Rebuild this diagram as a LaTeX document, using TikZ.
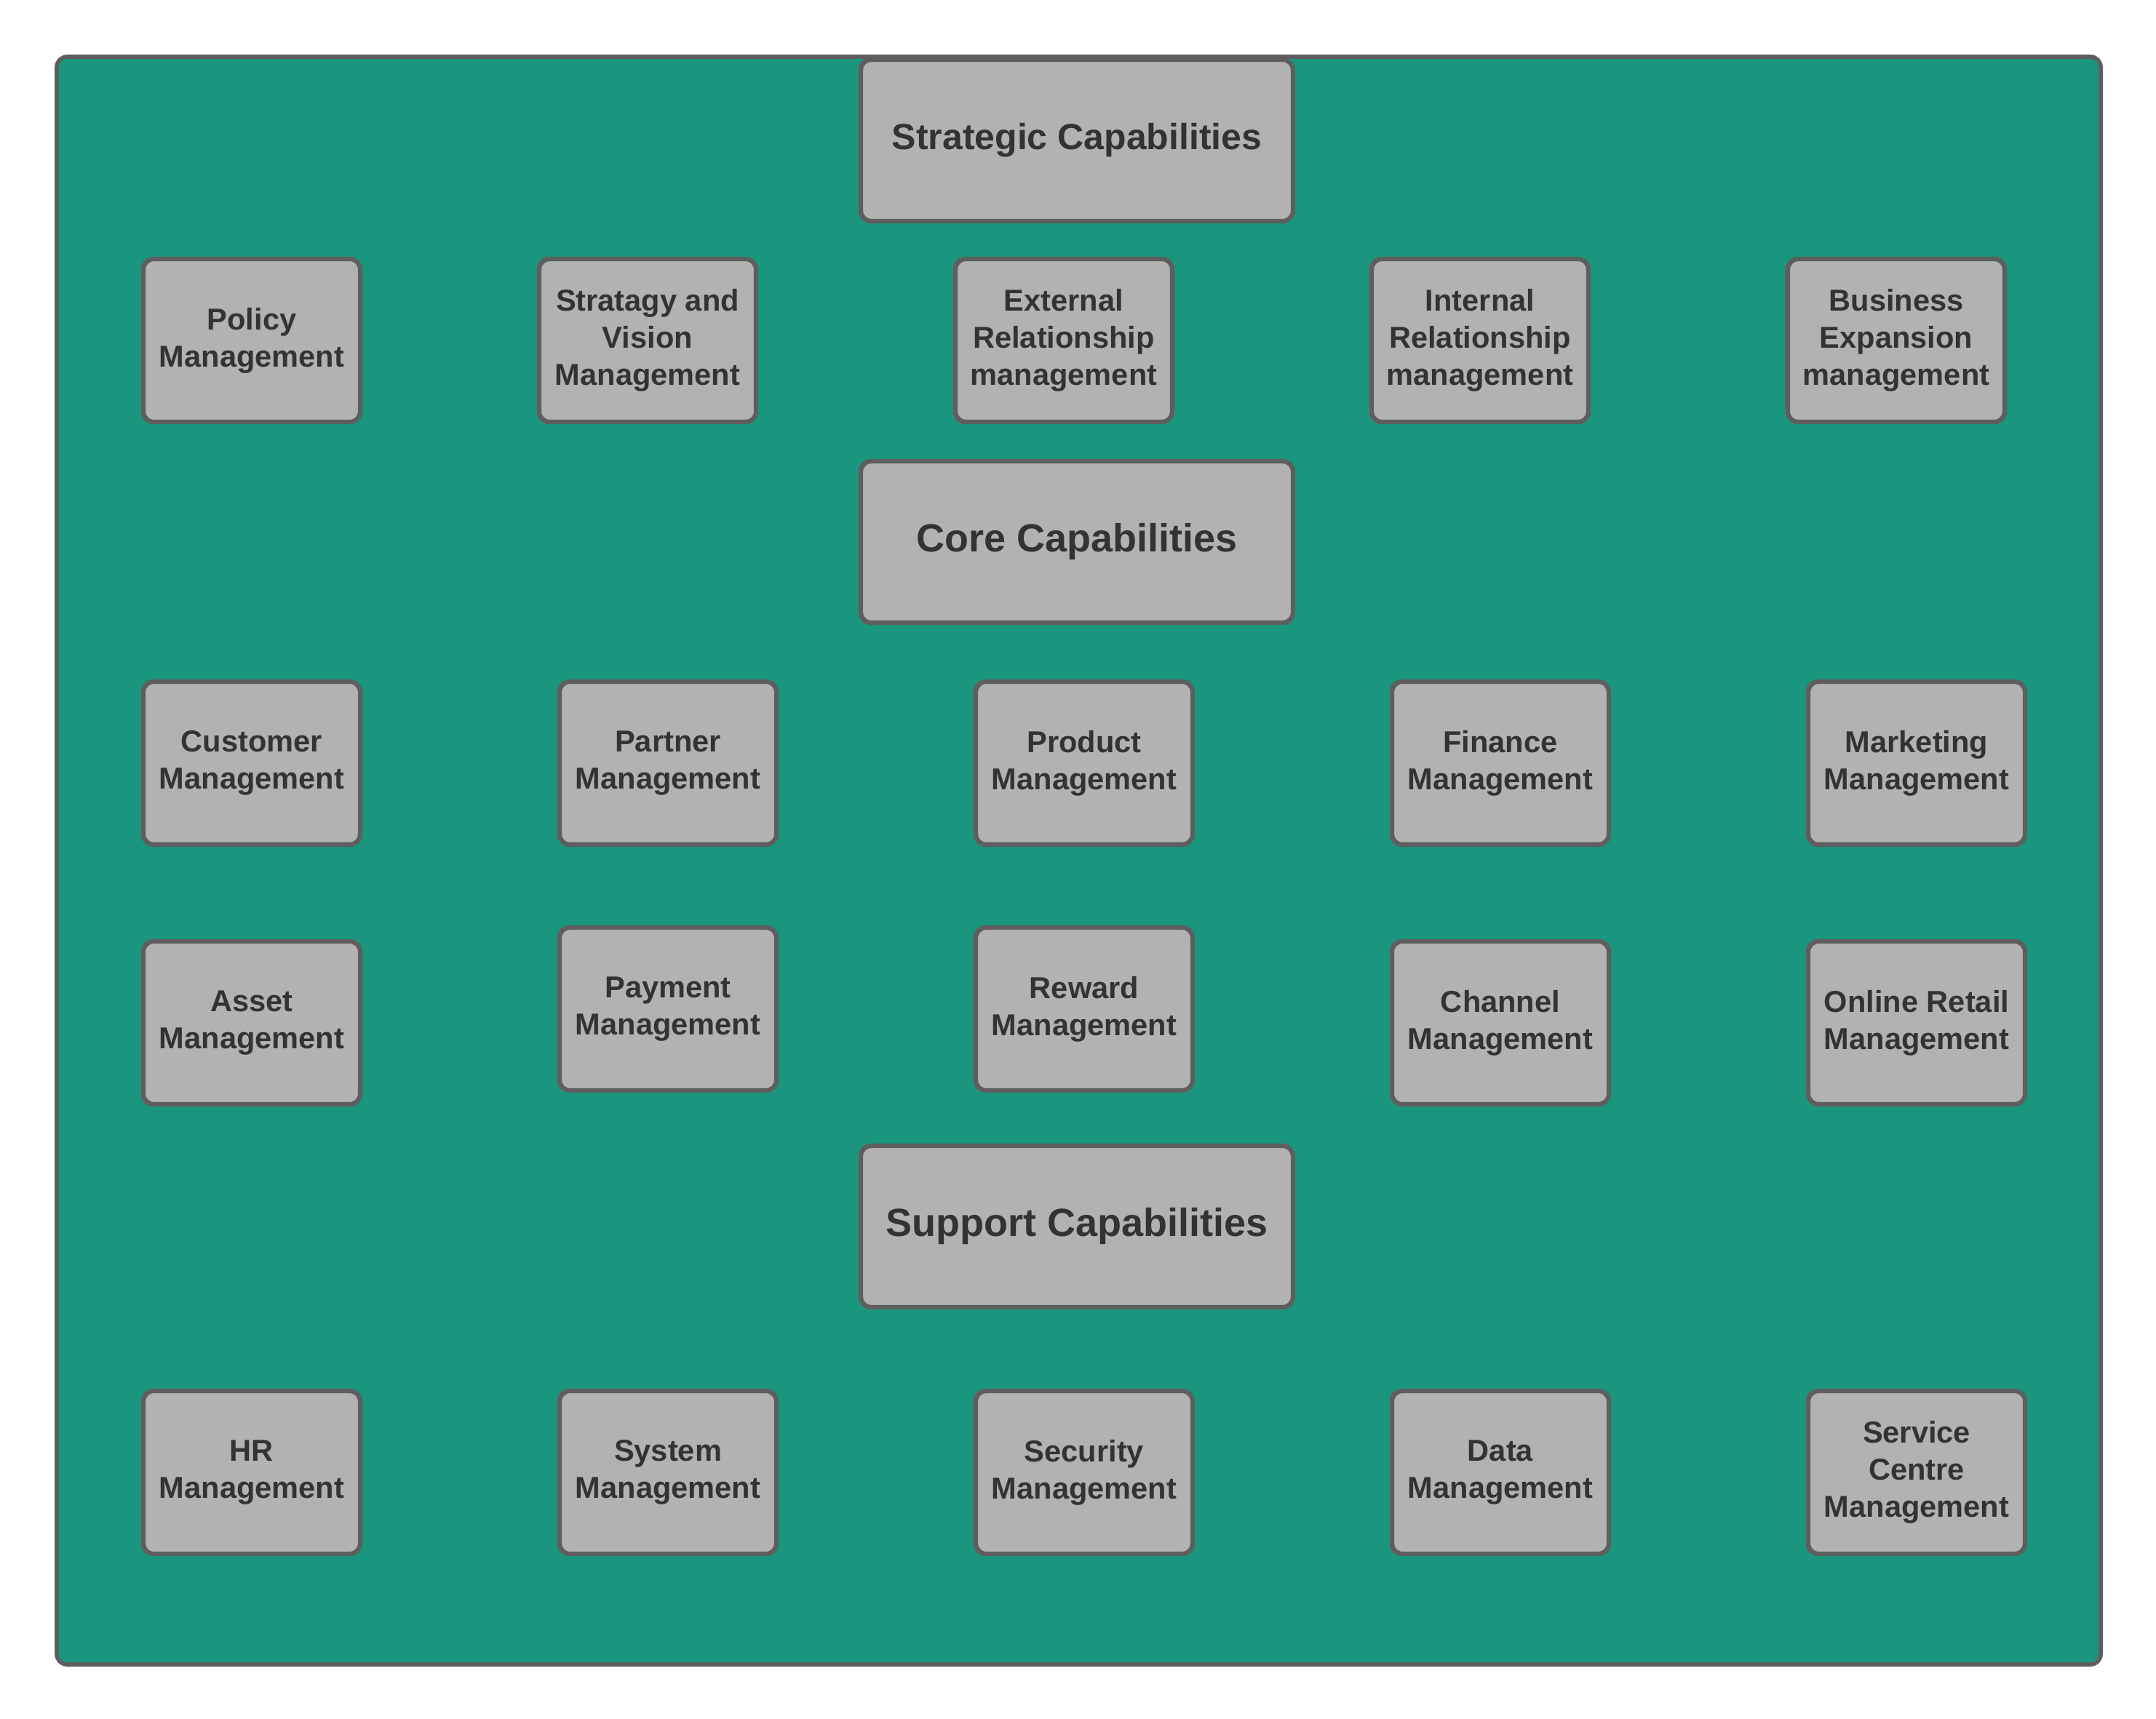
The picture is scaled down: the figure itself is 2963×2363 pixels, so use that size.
\documentclass[tikz,border=0pt]{standalone}
\usepackage{fontspec}
\setmainfont{Liberation Sans}
\usepackage{tikz}

\definecolor{teal}{HTML}{1A967E}
\definecolor{boxgray}{HTML}{B2B2B2}
\definecolor{edgegray}{HTML}{5E5E5E}
\definecolor{inkgray}{HTML}{333333}

\begin{document}
\begin{tikzpicture}[x=0.25pt, y=-0.25pt,
  capbox/.style={draw=edgegray, fill=boxgray, line width=1.6pt, rounded corners=3.5pt,
    minimum width=74.5pt, minimum height=56pt, align=center, text=inkgray,
    inner sep=0pt, font=\bfseries\fontsize{10.4}{12.75}\selectfont},
  headbox/.style={capbox, minimum width=148.5pt, minimum height=55.5pt,
    font=\bfseries\fontsize{13.5}{16}\selectfont}]
\useasboundingbox (0,0) rectangle (2963,2363);
\draw[edgegray, fill=teal, line width=1.4pt, rounded corners=3.5pt] (78,78) rectangle (2887,2288);

\node[headbox, font=\bfseries\fontsize{12.5}{15}\selectfont] (strat) at (1480,193) {Strategic Capabilities};
\node[capbox] (policy) at (346,468) {Policy\\Management};
\node[capbox] (vision) at (890,468) {Stratagy and\\Vision\\Management};
\node[capbox] (extrel) at (1462,468) {External\\Relationship\\management};
\node[capbox] (intrel) at (2034,468) {Internal\\Relationship\\management};
\node[capbox] (busexp) at (2606,468) {Business\\Expansion\\management};

\node[headbox] (core) at (1480,745) {Core Capabilities};
\node[capbox] (customer) at (346,1049) {Customer\\Management};
\node[capbox] (partner) at (918,1049) {Partner\\Management};
\node[capbox] (product) at (1490,1049) {Product\\Management};
\node[capbox] (finance) at (2062,1049) {Finance\\Management};
\node[capbox] (marketing) at (2634,1049) {Marketing\\Management};

\node[capbox] (asset) at (346,1406) {Asset\\Management};
\node[capbox] (payment) at (918,1387) {Payment\\Management};
\node[capbox] (reward) at (1490,1387) {Reward\\Management};
\node[capbox] (channel) at (2062,1406) {Channel\\Management};
\node[capbox] (online) at (2634,1406) {Online Retail\\Management};

\node[headbox] (support) at (1480,1686) {Support Capabilities};
\node[capbox] (hr) at (346,2024) {HR\\Management};
\node[capbox] (system) at (918,2024) {System\\Management};
\node[capbox] (security) at (1490,2024) {Security\\Management};
\node[capbox] (data) at (2062,2024) {Data\\Management};
\node[capbox] (service) at (2634,2024) {Service\\Centre\\Management};
\end{tikzpicture}
\end{document}
